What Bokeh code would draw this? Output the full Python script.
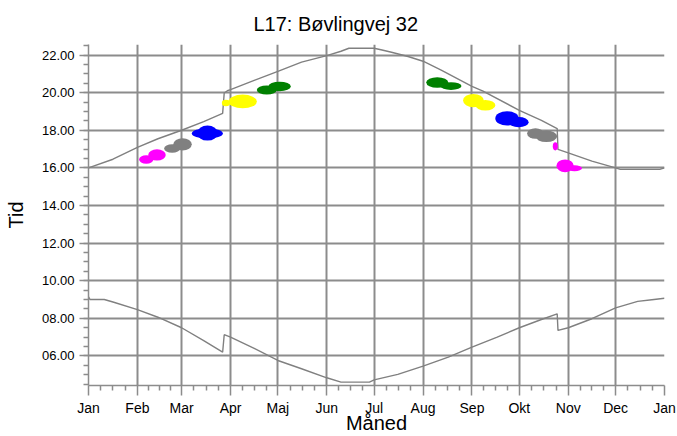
from bokeh.plotting import figure
from bokeh.models import FixedTicker, Range1d
from bokeh.embed import file_html
from bokeh.resources import INLINE

# ---- data ----
month_names = ["Jan", "Feb", "Mar", "Apr", "Maj", "Jun", "Jul", "Aug", "Sep", "Okt", "Nov", "Dec", "Jan"]
month_starts = [0, 31, 59, 90, 120, 151, 181, 212, 243, 273, 304, 334, 365]

ytick_vals = [6, 8, 10, 12, 14, 16, 18, 20, 22]
ytick_labels = ["06.00", "08.00", "10.00", "12.00", "14.00", "16.00", "18.00", "20.00", "22.00"]

sunset_day = [0, 15.5, 31, 44, 59, 73, 85, 86, 88, 90, 105, 120, 135, 151, 160, 165, 181, 186,
              192, 202.5, 212, 223.5, 243, 250, 273, 287, 297, 297.5, 304, 319, 334, 337, 362, 365]
sunset_hour = [16.0, 16.46, 17.09, 17.55, 18.0, 18.46, 18.9, 19.98, 20.1, 20.16, 20.65, 21.13, 21.62,
               21.97, 22.2, 22.36, 22.36, 22.27, 22.15, 21.92, 21.67, 21.2, 20.33, 20.08, 19.06, 18.53,
               18.09, 16.98, 16.8, 16.36, 16.0, 15.92, 15.92, 16.0]

sunrise_day = [0, 1, 10, 15.5, 31, 44, 59, 73, 85, 86, 90, 105, 120, 135, 151, 160, 178, 181, 196,
               212, 228, 243, 259, 273, 287, 297, 297.5, 304, 319, 334, 348, 357, 365]
sunrise_hour = [9.15, 9.0, 9.0, 8.87, 8.46, 8.06, 7.5, 6.82, 6.2, 7.13, 7.0, 6.41, 5.76, 5.32, 4.84,
                4.61, 4.61, 4.73, 5.02, 5.46, 5.94, 6.47, 7.0, 7.5, 7.94, 8.24, 7.36, 7.5, 7.98, 8.56,
                8.9, 8.99, 9.07]

# shadow periods (day of year, hour, extent in days, extent in hours, colour)
blob_day = [36.6, 43.4, 53.0, 59.6, 75.3, 75.4, 97.7, 87.1, 113.0, 121.1,
            221.0, 229.7, 243.9, 251.5, 265.2, 272.6, 283.2, 290.1, 295.8, 302.0, 308.0]
blob_hour = [16.45, 16.69, 17.03, 17.25, 17.83, 17.85, 19.53, 19.45, 20.14, 20.33,
             20.54, 20.35, 19.58, 19.33, 18.63, 18.43, 17.83, 17.68, 17.15, 16.11, 15.98]
blob_w = [9.1, 11.1, 10.1, 11.7, 19.7, 13.0, 18.0, 5.2, 12.7, 14.2,
          14.0, 13.3, 13.1, 12.7, 14.8, 12.6, 10.5, 13.8, 3.2, 11.0, 9.5]
blob_h = [0.45, 0.6, 0.45, 0.66, 0.55, 0.8, 0.73, 0.34, 0.48, 0.51,
          0.56, 0.41, 0.71, 0.57, 0.76, 0.54, 0.56, 0.62, 0.44, 0.68, 0.31]
blob_color = ["#ff00ff", "#ff00ff", "#808080", "#808080", "#0000ff", "#0000ff", "#ffff00", "#ffff00",
              "#008000", "#008000", "#008000", "#008000", "#ffff00", "#ffff00", "#0000ff", "#0000ff",
              "#808080", "#808080", "#ff00ff", "#ff00ff", "#ff00ff"]

title_text = "L17: Bøvlingvej 32"
x_title = "Måned"
y_title = "Tid"

GRID = "#8c8c8c"
FONT = "Liberation Sans"

p = figure(width=677, height=436, output_backend="svg", toolbar_location=None,
           x_range=Range1d(0, 365), y_range=Range1d(4.43, 22.56),
           min_border_left=88, min_border_right=13, min_border_top=44, min_border_bottom=51)
p.outline_line_color = None
p.background_fill_color = "white"
p.border_fill_color = "white"

p.title.text = title_text
p.title.text_font = FONT
p.title.text_font_size = "20px"
p.title.text_font_style = "normal"
p.title.text_color = "black"
p.title.align = "left"
p.title.offset = 165
p.title.standoff = 20

# x axis
x_minor = []
for a, b in zip(month_starts[:-1], month_starts[1:]):
    x_minor += [a + (b - a) * k / 4 for k in (1, 2, 3)]
p.xaxis.ticker = FixedTicker(ticks=month_starts, minor_ticks=x_minor)
p.xaxis.major_label_overrides = {m: n for m, n in zip(month_starts, month_names)}
p.xaxis.axis_label = x_title

# y axis
y_minor = [4.5 + 0.5 * i for i in range(37)]
p.yaxis.ticker = FixedTicker(ticks=ytick_vals, minor_ticks=y_minor)
p.yaxis.major_label_overrides = {v: s for v, s in zip(ytick_vals, ytick_labels)}
p.yaxis.axis_label = y_title

for ax in (p.xaxis[0], p.yaxis[0]):
    ax.axis_line_color = GRID
    ax.axis_line_width = 1.5
    ax.major_tick_line_color = GRID
    ax.minor_tick_line_color = GRID
    ax.major_tick_line_width = 1.5
    ax.minor_tick_line_width = 1.5
    ax.major_tick_in = 0
    ax.minor_tick_in = 0
    ax.major_label_text_font = FONT
    ax.major_label_text_color = "black"
    ax.axis_label_text_font = FONT
    ax.axis_label_text_font_style = "normal"
    ax.axis_label_text_font_size = "20px"
    ax.axis_label_text_color = "black"

p.xaxis.major_tick_out = 10
p.xaxis.minor_tick_out = 5
p.xaxis.major_label_text_font_size = "14px"
p.xaxis.major_label_standoff = 4
p.xaxis.axis_label_standoff = -7
p.yaxis.major_tick_out = 9
p.yaxis.minor_tick_out = 5
p.yaxis.major_label_text_font_size = "13px"
p.yaxis.major_label_standoff = 5
p.yaxis.axis_label_standoff = 12

p.xgrid.ticker = FixedTicker(ticks=month_starts[:-1])
p.ygrid.ticker = FixedTicker(ticks=ytick_vals)
for g in (p.xgrid[0], p.ygrid[0]):
    g.grid_line_color = GRID
    g.grid_line_width = 2
    g.minor_grid_line_color = None

p.line(sunset_day, sunset_hour, line_color="#808080", line_width=1.4)
p.line(sunrise_day, sunrise_hour, line_color="#808080", line_width=1.4)

p.ellipse(x=blob_day, y=blob_hour, width=blob_w, height=blob_h,
          fill_color=blob_color, line_color=None)

open("out.html", "w").write(file_html(p, INLINE))
